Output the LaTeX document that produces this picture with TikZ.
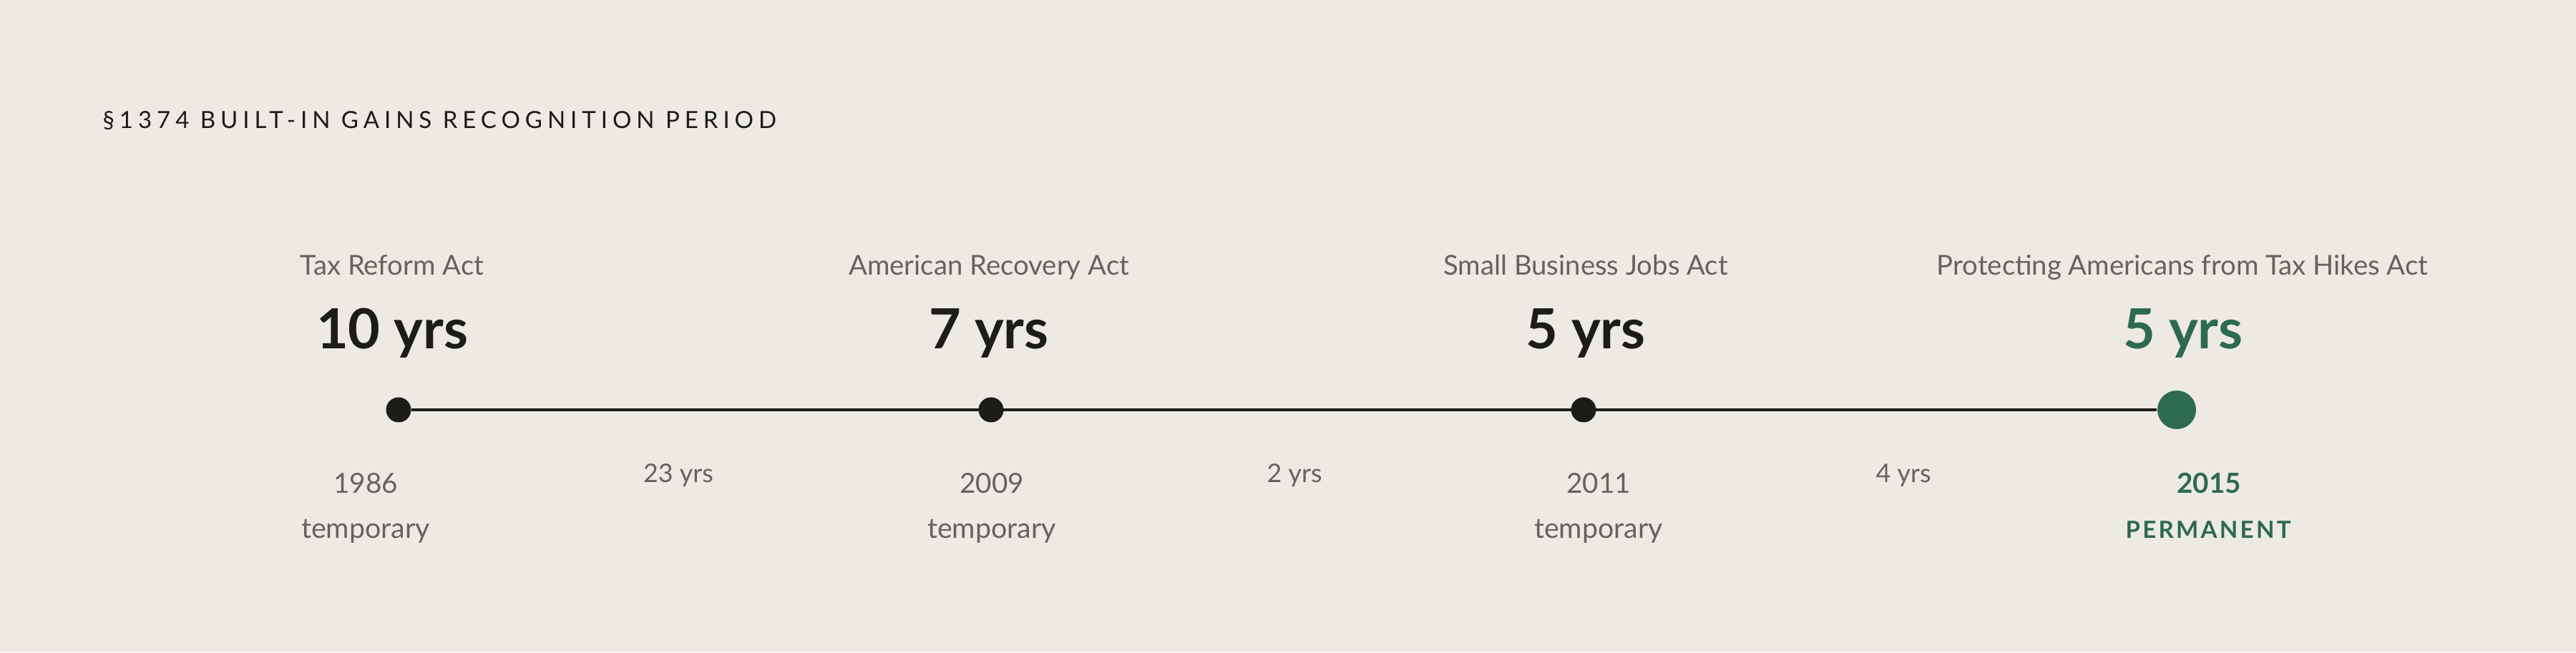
\documentclass[tikz,border=0pt]{standalone}
\usepackage{fontspec}
\setmainfont{Lato}
\newfontfamily\spacedfont[LetterSpace=21]{Lato}
\newfontfamily\spacedbold[LetterSpace=10]{Lato Bold}
\usepackage{xcolor}
\usepackage{tikz}
\definecolor{paper}{HTML}{EDEAE3}
\definecolor{ink}{HTML}{1C1C1A}
\definecolor{muted}{HTML}{66635E}
\definecolor{accent}{HTML}{2D6A4F}

\begin{document}
\begin{tikzpicture}[
  every node/.style={inner sep=0pt,anchor=base},
  act/.style={font=\fontsize{10.9}{13}\selectfont,text=muted},
  span/.style={font=\fontsize{22}{26}\selectfont\bfseries,text=ink},
  year/.style={font=\fontsize{11}{13}\selectfont,text=muted},
  kind/.style={font=\fontsize{11.2}{13}\selectfont,text=muted},
  gap/.style={font=\fontsize{10.2}{12}\selectfont,text=muted},
  dot/.style={circle,fill=ink,minimum size=3.5mm,anchor=center},
  timeline/.style={draw=ink,line width=0.4mm},
]
\fill[paper] (0,0) rectangle (36,9.12);
\useasboundingbox (0,0) rectangle (36,9.12);
\node[anchor=base west,font=\spacedfont\fontsize{9.4}{11}\selectfont,text=ink] (title)
  at (1.43,7.32) {\S1374 BUILT-IN GAINS RECOGNITION PERIOD};
% the three temporary periods
\foreach \k/\x/\ax/\yx/\act/\yrs/\yr in {
  1/5.57/5.48/5.11/Tax Reform Act/10 yrs/1986,
  2/13.85/13.82/13.86/American Recovery Act/7 yrs/2009,
  3/22.13/22.16/22.34/Small Business Jobs Act/5 yrs/2011} {
  \node[dot] (dot\k) at (\x,3.39) {};
  \node[act] (act\k) at (\ax,5.27) {\act};
  \node[span] (span\k) at (\ax,4.24) {\yrs};
  \node[year] (year\k) at (\yx,2.22) {\yr};
  \node[kind] (kind\k) at (\yx,1.60) {temporary};
}
% the permanent one
\node[dot,fill=accent,minimum size=5.4mm] (dot4) at (30.42,3.39) {};
\node[act] (act4) at (30.50,5.27) {Protecting Americans from Tax Hikes Act};
\node[span,text=accent] (span4) at (30.51,4.24) {5 yrs};
\node[year,text=accent,font=\fontsize{11}{13}\selectfont\bfseries] (year4) at (30.87,2.22) {2015};
\node[kind,text=accent,font=\spacedbold\fontsize{9.4}{11}\selectfont] (kind4) at (30.86,1.60) {PERMANENT};
\draw[timeline] (dot1) -- (dot4);
\foreach \g/\x/\t in {1/9.48/23 yrs,2/18.09/2 yrs,3/26.60/4 yrs}
  \node[gap] (gap\g) at (\x,2.37) {\t};
\end{tikzpicture}
\end{document}
